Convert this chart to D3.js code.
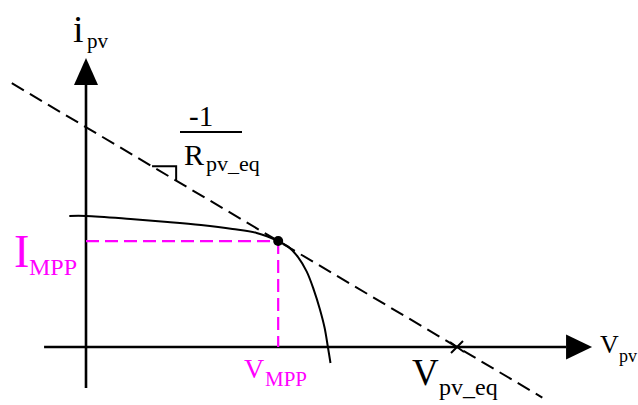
<!DOCTYPE html>
<html>
<head>
<meta charset="utf-8">
<script src="https://cdn.jsdelivr.net/npm/d3@7"></script>
<style>
  html, body { margin: 0; padding: 0; background: #fff; }
  svg { display: block; }
</style>
</head>
<body>
<svg id="chart" width="638" height="405"></svg>
<script>
// PV current–voltage characteristic (normalised: i = 1 at short circuit)
const curveV = [-0.45, 0, 1.2, 2.2, 3.1, 3.95, 4.6, 5.18, 5.45, 5.72, 5.95, 6.14, 6.3, 6.43, 6.52, 6.59];
const curveI = [1.008, 1.008, 0.985, 0.962, 0.938, 0.908, 0.877, 0.815, 0.772, 0.69, 0.58, 0.44, 0.295, 0.15, 0, -0.123];

// Maximum power point and the equivalent-resistance load line
const mppV = 5.18;
const mppI = 0.815;
const vEq = 10;                 // load line crosses the voltage axis here
const loadLineV = [-2, 12.3];   // extent of the dashed load line
const slopeMarkV = [1.78, 2.43];

// Axis extents (data units)
const axisV = [-1.13, 12.94];
const axisI = [-0.315, 2.015];

const FONT = "'Liberation Serif', 'Times New Roman', 'DejaVu Serif', serif";

const svg = d3.select("#chart");
const x = d3.scaleLinear().domain([0, vEq]).range([86, 457]);
const y = d3.scaleLinear().domain([0, 1]).range([347, 217]);

const slope = -mppI / (vEq - mppV);
const loadI = v => slope * (v - vEq);

// --- axes with arrow heads ---
svg.append("line")
  .attr("x1", x(axisV[0])).attr("y1", y(0))
  .attr("x2", x(axisV[1])).attr("y2", y(0))
  .attr("stroke", "#000").attr("stroke-width", 2.6);
svg.append("line")
  .attr("x1", x(0)).attr("y1", y(axisI[0]))
  .attr("x2", x(0)).attr("y2", y(axisI[1]))
  .attr("stroke", "#000").attr("stroke-width", 2.6);

const xe = x(axisV[1]), ye = y(axisI[1]);
svg.append("path")
  .attr("d", `M${xe},${y(0) - 12.5} L${xe + 26},${y(0)} L${xe},${y(0) + 12.5} Z`)
  .attr("fill", "#000");
svg.append("path")
  .attr("d", `M${x(0) - 12},${ye} L${x(0)},${ye - 27} L${x(0) + 12},${ye} Z`)
  .attr("fill", "#000");

// --- MPP projection lines ---
const magenta = "#ff00ff";
svg.append("line")
  .attr("x1", x(0)).attr("y1", y(mppI))
  .attr("x2", x(mppV)).attr("y2", y(mppI))
  .attr("stroke", magenta).attr("stroke-width", 2.2)
  .attr("stroke-dasharray", "13,6");
svg.append("line")
  .attr("x1", x(mppV)).attr("y1", y(mppI))
  .attr("x2", x(mppV)).attr("y2", y(0))
  .attr("stroke", magenta).attr("stroke-width", 2.2)
  .attr("stroke-dasharray", "13,6");

// --- load line ---
svg.append("line")
  .attr("x1", x(loadLineV[0])).attr("y1", y(loadI(loadLineV[0])))
  .attr("x2", x(loadLineV[1])).attr("y2", y(loadI(loadLineV[1])))
  .attr("stroke", "#000").attr("stroke-width", 2)
  .attr("stroke-dasharray", "14,7");

// slope marker
svg.append("path")
  .attr("d", `M${x(slopeMarkV[0])},${y(loadI(slopeMarkV[0]))} L${x(slopeMarkV[1])},${y(loadI(slopeMarkV[0]))} L${x(slopeMarkV[1])},${y(loadI(slopeMarkV[1]))}`)
  .attr("fill", "none").attr("stroke", "#000").attr("stroke-width", 2);

// --- I-V curve ---
const pts = curveV.map((v, k) => [v, curveI[k]]);
svg.append("path")
  .datum(pts)
  .attr("d", d3.line().x(d => x(d[0])).y(d => y(d[1])).curve(d3.curveCatmullRom.alpha(0.5)))
  .attr("fill", "none").attr("stroke", "#000").attr("stroke-width", 2);

// MPP dot
svg.append("circle")
  .attr("cx", x(mppV)).attr("cy", y(mppI)).attr("r", 5)
  .attr("fill", "#000");

// crossing mark at V_pv_eq
const cx = x(vEq), cy = y(0);
svg.append("path")
  .attr("d", `M${cx - 7},${cy - 5} L${cx + 7},${cy + 5} M${cx - 6},${cy + 6} L${cx + 6},${cy - 6}`)
  .attr("stroke", "#000").attr("stroke-width", 2);

// --- labels ---
function label(parts, color) {
  parts.forEach(p => {
    svg.append("text")
      .attr("x", p.x).attr("y", p.y)
      .attr("font-family", FONT)
      .attr("font-size", p.size)
      .attr("fill", color)
      .text(p.t);
  });
}

label([{ t: "i", x: 73, y: 42, size: 38 }, { t: "pv", x: 87, y: 48, size: 21 }], "#000");
label([{ t: "V", x: 600, y: 353, size: 26 }, { t: "pv", x: 619, y: 362, size: 18 }], "#000");
label([{ t: "V", x: 412, y: 385, size: 37 }, { t: "pv_eq", x: 439, y: 395, size: 24 }], "#000");
label([{ t: "-1", x: 189, y: 126, size: 29 }], "#000");
svg.append("line")
  .attr("x1", 180).attr("y1", 132).attr("x2", 242).attr("y2", 132)
  .attr("stroke", "#000").attr("stroke-width", 2);
label([{ t: "R", x: 184, y: 165, size: 30 }, { t: "pv_eq", x: 206, y: 171, size: 22 }], "#000");
label([{ t: "I", x: 14, y: 267, size: 46 }, { t: "MPP", x: 29, y: 275, size: 24 }], magenta);
label([{ t: "V", x: 244, y: 378, size: 28 }, { t: "MPP", x: 265, y: 386, size: 21 }], magenta);
</script>
</body>
</html>
